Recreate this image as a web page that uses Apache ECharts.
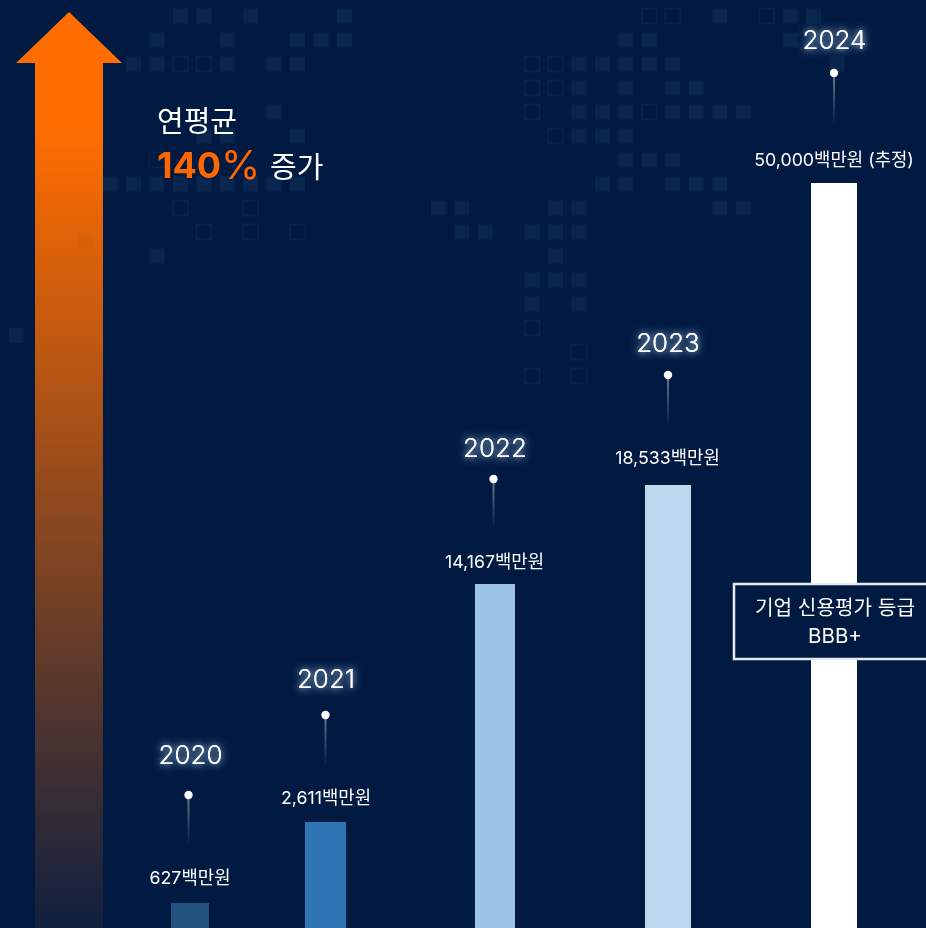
<!DOCTYPE html>
<html>
<head>
<meta charset="utf-8">
<title>연평균 140% 증가</title>
<script src="https://cdn.jsdelivr.net/npm/echarts@6/dist/echarts.min.js"></script>
<style>
  html, body { margin: 0; padding: 0; background: #001a42; }
  #main { width: 926px; height: 928px; }
</style>
</head>
<body>
<div id="main"></div>
<script>
// data
const years = ["2020", "2021", "2022", "2023", "2024"];
const valueLabels = ["627백만원", "2,611백만원", "14,167백만원", "18,533백만원", "50,000백만원 (추정)"];
// bars are not to scale in the picture, so these are the heights as drawn
const barLevels = [25, 106, 344, 443, 745];

// layout
const barCenters = [190, 325.5, 495, 668, 834];
const barWidths = [38, 41, 40, 46, 46];
const barColors = ["#24527f", "#2e75b6", "#9dc3e6", "#bdd7ee", "#ffffff"];
const yearGaps = [147, 142, 135, 141, 142];
const yearCenters = [190.5, 326, 495, 668, 834.5];
const pinGaps = [108, 107, 105, 110, 110];
const pinCenters = [188.5, 325.5, 493.5, 668, 834];
const valueGaps = [24.5, 23.5, 21.5, 26.5, 22.5];
const valueCenters = [190, 326, 494.5, 667.5, 834];

// background squares [col, row]
const filledCells = [
  [7,0],[8,0],[10,0],[14,0],[30,0],[33,0],[34,0],
  [6,1],[9,1],[12,1],[13,1],[14,1],[26,1],[27,1],[33,1],
  [5,2],[6,2],[9,2],[11,2],[12,2],[24,2],[25,2],[26,2],[27,2],[28,2],[35,2],
  [24,3],[26,3],[28,3],[29,3],
  [11,4],[24,4],[25,4],[26,4],[28,4],[29,4],[30,4],[31,4],
  [8,5],[9,5],[12,5],[24,5],[25,5],[26,5],
  [26,6],[27,6],[28,6],
  [4,7],[5,7],[6,7],[7,7],[8,7],[9,7],[10,7],[11,7],[12,7],[25,7],[26,7],[28,7],[29,7],[30,7],
  [18,8],[19,8],[23,8],[24,8],[30,8],[31,8],
  [19,9],[20,9],[22,9],[23,9],[24,9],
  [6,10],[23,10],
  [22,11],[23,11],[24,11],
  [22,12],[24,12],
  [0,13.3]
];
const hollowCells = [
  [23,-1],[27,-1],[28,-1],[29,-1],
  [27,0],[28,0],[32,0],
  [7,2],[8,2],[22,2],[23,2],
  [22,3],[23,3],
  [22,4],[27,4],
  [23,5],
  [6,6],
  [7,8],[10,8],
  [8,9],[10,9],[12,9],
  [22,13],
  [24,14],
  [22,15],[24,15]
];

const cellX = (c) => 16.2 + 23.45 * c;
const cellY = (r) => 928 - (16 + 24 * r);
const FONT = "Inter, 'Noto Sans CJK KR', sans-serif";

let chart = echarts.init(document.getElementById("main"));

chart.setOption({
  animation: false,
  backgroundColor: "#001a42",
  grid: { left: 0, right: 0, top: 0, bottom: 0 },
  xAxis: { type: "value", min: 0, max: 926, show: false },
  yAxis: { type: "value", min: 0, max: 928, show: false },
  tooltip: { show: false },
  series: [
    {
      type: "scatter",
      silent: true,
      symbol: "rect",
      symbolSize: 15,
      z: 1,
      itemStyle: { color: "#09264e", opacity: 1 },
      data: filledCells.map((c) => [cellX(c[0]), cellY(c[1])])
    },
    {
      type: "scatter",
      silent: true,
      symbol: "rect",
      symbolSize: 15,
      z: 1,
      itemStyle: { color: "transparent", borderColor: "#07234a", borderWidth: 2, opacity: 1 },
      data: hollowCells.map((c) => [cellX(c[0]), cellY(c[1])])
    },
    {
      type: "custom",
      silent: true,
      z: 5,
      clip: false,
      data: barLevels.map((v, i) => [barCenters[i], v]),
      renderItem: (params, api) => {
        let i = params.dataIndex;
        let top = api.coord([api.value(0), api.value(1)]);
        let base = api.coord([api.value(0), 0]);
        let w = barWidths[i];
        let pinY = top[1] - pinGaps[i];
        let yearStyle = (blur, color) => ({
          text: years[i], x: yearCenters[i], y: top[1] - yearGaps[i],
          align: "center", verticalAlign: "middle",
          font: "300 26px " + FONT, fill: "#ffffff",
          textShadowColor: color, textShadowBlur: blur
        });
        return {
          type: "group",
          children: [
            {
              type: "rect",
              shape: { x: top[0] - w / 2, y: top[1], width: w, height: base[1] - top[1] },
              style: { fill: barColors[i] }
            },
            {
              type: "rect",
              shape: { x: pinCenters[i] - 1, y: pinY, width: 2, height: 52 },
              style: {
                fill: new echarts.graphic.LinearGradient(0, 0, 0, 1, [
                  { offset: 0, color: "rgba(255,255,255,0.42)" },
                  { offset: 1, color: "rgba(255,255,255,0)" }
                ])
              }
            },
            {
              type: "circle",
              shape: { cx: pinCenters[i], cy: pinY, r: 4.2 },
              style: { fill: "#ffffff" }
            },
            { type: "text", style: yearStyle(9, "rgba(170,200,235,0.9)") },
            { type: "text", style: yearStyle(6, "rgba(170,200,235,0.7)") },
            {
              type: "text",
              style: {
                text: valueLabels[i], x: valueCenters[i], y: top[1] - valueGaps[i],
                align: "center", verticalAlign: "middle",
                font: "400 17.8px " + FONT, fill: "#ffffff"
              }
            }
          ]
        };
      }
    }
  ],
  graphic: [
    {
      type: "polygon",
      silent: true,
      z: 3,
      shape: { points: [[69, 12], [122, 63], [103, 63], [103, 928], [35, 928], [35, 63], [16, 63]] },
      style: {
        fill: new echarts.graphic.LinearGradient(0, 0, 0, 1, [
          { offset: 0, color: "#ff6d00" },
          { offset: 0.13, color: "#ff6d00" },
          { offset: 1, color: "#10203f" }
        ])
      }
    },
    // the one square that shows through the arrow
    { type: "rect", silent: true, z: 4, shape: { x: 78, y: 233, width: 15, height: 15 }, style: { fill: "rgba(90,50,40,0.03)" } },
    { type: "text", silent: true, z: 6, style: { text: "연평균", x: 157, y: 123, verticalAlign: "middle", font: "400 29px " + FONT, fill: "#ffffff" } },
    { type: "text", silent: true, z: 6, style: { text: "140", x: 157, y: 167, verticalAlign: "middle", font: "700 36px " + FONT, fill: "#ff6600" } },
    { type: "text", silent: true, z: 6, style: { text: "%", x: 221, y: 167, verticalAlign: "middle", font: "400 40px " + FONT, fill: "#ff6600" } },
    { type: "text", silent: true, z: 6, style: { text: "증가", x: 270, y: 169, verticalAlign: "middle", font: "400 29px " + FONT, fill: "#ffffff" } },
    {
      type: "rect",
      silent: true,
      z: 7,
      shape: { x: 734, y: 584, width: 200, height: 75 },
      style: { fill: "#001a42", stroke: "#e6ebf2", lineWidth: 2.5 }
    },
    { type: "text", silent: true, z: 8, style: { text: "기업 신용평가 등급", x: 835, y: 609, align: "center", verticalAlign: "middle", font: "400 20.2px " + FONT, fill: "#ffffff" } },
    { type: "text", silent: true, z: 8, style: { text: "BBB+", x: 835, y: 637, align: "center", verticalAlign: "middle", font: "400 20.5px " + FONT, fill: "#ffffff" } }
  ]
});
</script>
</body>
</html>
